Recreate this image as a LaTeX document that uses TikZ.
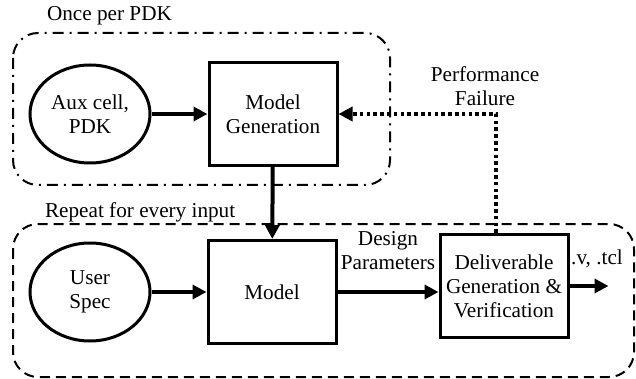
\documentclass[tikz,border=0pt]{standalone}
\usepackage{fontspec}
\newfontfamily\diagfont{Liberation Serif}
\usepackage{tikz}
\usetikzlibrary{shapes,arrows.meta,positioning,calc}

\begin{document}
\begin{tikzpicture}[x=0.5pt,y=-0.5pt,
  font=\diagfont\fontsize{10.6}{12}\selectfont,
  block/.style={draw, rectangle, line width=1.5pt, minimum width=64pt, minimum height=51.5pt, align=center, inner sep=1pt},
  blob/.style={draw, ellipse, line width=1.5pt, minimum width=60pt, minimum height=49pt, align=center, inner sep=1pt},
  flow/.style={line width=2pt, -{Triangle[length=7pt,width=7pt]}},
  loopback/.style={line width=2pt, dash pattern=on 1.8pt off 1.6pt, -{Triangle[length=7pt,width=7pt]}},
  pdkframe/.style={line width=1pt, rounded corners=12.5pt, dash pattern=on 5.5pt off 3pt on 1pt off 3pt},
  runframe/.style={line width=1pt, rounded corners=12.5pt, dash pattern=on 5pt off 3pt}]
\useasboundingbox (0,0) rectangle (636,379);
\node[blob] (Aux) at (90,114) {Aux cell,\\PDK};
\node[block, right=28pt of Aux] (ModelGen) {Model\\Generation};
\node[blob] (User) at (90,292) {User\\Spec};
\node[block, right=27.5pt of User] (Model) {Model};
\node[block, right=50.5pt of Model, yshift=3pt] (Deliv) {Deliverable\\Generation \&\\Verification};
\coordinate[right=19.5pt of Deliv.east] (Out);
% frames
\draw[pdkframe] (13,33) rectangle (390,185);
\draw[runframe] (13,224) rectangle (634,377);
\node[right] (OnceLbl) at (40,16) {Once per PDK};
\node[right] (RepeatLbl) at (38,212) {Repeat for every input};
% flow
\draw[flow] (Aux) -- (ModelGen);
\draw[flow] (ModelGen) -- (Model);
\draw[flow] (User) -- (Model);
\draw[flow] (Model.east) -- (Model.east -| Deliv.west) node[midway, above=7pt, align=center] {Design\\Parameters};
\draw[flow] (Deliv.east) -- (Out) node[midway, above=5pt, xshift=4pt] {.v, .tcl};
\draw[loopback] ([xshift=-4pt]Deliv.north) |- (ModelGen.east) node[pos=0.5, above, xshift=-5.5pt, align=center] {Performance\\Failure};
\end{tikzpicture}
\end{document}
